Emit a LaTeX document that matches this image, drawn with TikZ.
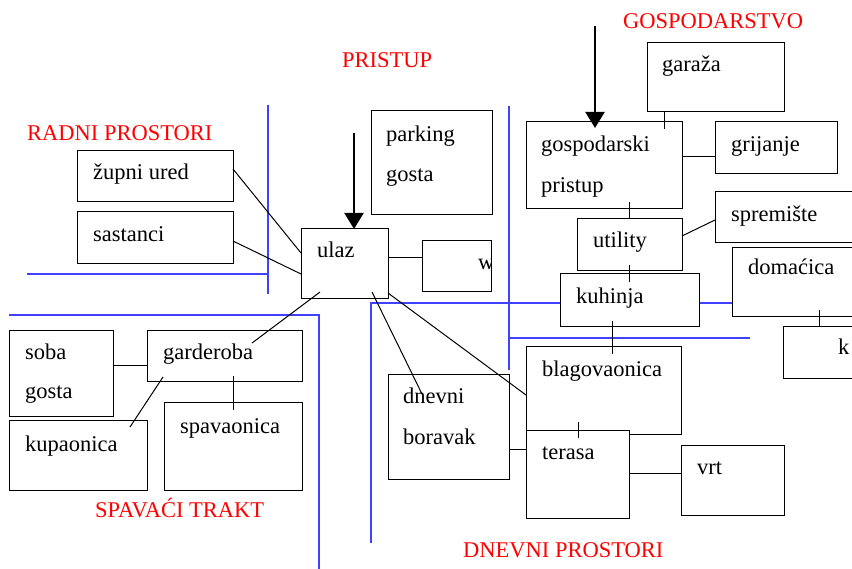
\documentclass[tikz,border=0pt]{standalone}
\usepackage{fontspec}
\setmainfont{Liberation Serif}
\usetikzlibrary{arrows.meta,calc}
\definecolor{divblue}{RGB}{64,64,255}
\definecolor{lblred}{RGB}{255,0,0}
\tikzset{
  box/.style={draw=black, fill=white, line width=1pt, inner sep=0pt, outer sep=0pt, anchor=north west},
  txt/.style={font=\fontsize{22.5}{27}\selectfont, inner sep=0pt, anchor=base west, text=black},
  zone/.style={font=\fontsize{22.5}{27}\selectfont, inner sep=0pt, anchor=base west, text=lblred},
  divider/.style={draw=divblue, line width=1.5pt},
  conn/.style={draw=black, line width=1pt},
  bigarrow/.style={draw=black, line width=2.2pt, -{Triangle[width=19pt,length=16pt]}}
}
\newcommand\roombox[5]{\node[box, minimum width=#4pt, minimum height=#5pt] (#1) at (#2,#3) {};}
\begin{document}
\begin{tikzpicture}[x=1pt,y=-1pt]
\useasboundingbox (0,0) rectangle (852,569);
\clip (0,0) rectangle (852,569);
% dividers
\draw[divider] (268,105) -- (268,294);
\draw[divider] (27,274) -- (268,274);
\draw[divider] (9,315) -- (319,315) -- (319,569);
\draw[divider] (371,543) -- (371,303) -- (733,303);
\draw[divider] (509,106) -- (509,370);
\draw[divider] (509,338) -- (750,338);
% boxes
\roombox{zupni}{77}{151}{156}{51}
\roombox{sast}{77}{212}{156}{52}
\roombox{ulaz}{301}{229}{87}{70}
\roombox{park}{371}{111}{121}{104}
\roombox{wbox}{422}{241}{69}{51}
\roombox{garaza}{647}{43}{137}{69}
\roombox{gosp}{526}{122}{156}{87}
\roombox{grij}{715}{122}{122}{52}
\roombox{sprem}{715}{192}{150}{51}
\roombox{utility}{577}{219}{105}{52}
\roombox{kuhinja}{560}{274}{139}{53}
\roombox{domacica}{732}{248}{130}{69}
\roombox{kbox}{783}{327}{80}{52}
\roombox{blag}{526}{347}{155}{87}
\roombox{terasa}{526}{431}{103}{87}
\roombox{dnevni}{388}{375}{121}{104}
\roombox{vrt}{681}{445}{103}{70}
\roombox{soba}{9}{331}{104}{86}
\roombox{garder}{147}{331}{155}{51}
\roombox{kupa}{9}{421}{138}{69}
\roombox{spav}{164}{403}{138}{87}
% texts
\node[txt] (t-zupni) at (93,180) {župni ured};
\node[txt] (t-sast) at (93,242) {sastanci};
\node[txt] (t-ulaz) at (317,258) {ulaz};
\node[txt] (t-park1) at (386,142) {parking};
\node[txt] (t-park2) at (386,182) {gosta};
\begin{scope}
\clip (422,241) rectangle (491,292);
\node[txt] (t-w) at (478,270) {w};
\end{scope}
\node[txt] (t-garaza) at (662,72) {garaža};
\node[txt] (t-gosp1) at (541,152) {gospodarski};
\node[txt] (t-gosp2) at (541,193) {pristup};
\node[txt] (t-grij) at (731,152) {grijanje};
\node[txt] (t-sprem) at (731,222) {spremište};
\node[txt] (t-utility) at (593,248) {utility};
\node[txt] (t-kuhinja) at (576,304) {kuhinja};
\node[txt] (t-domacica) at (748,275) {domaćica};
\node[txt] (t-k) at (838,355) {k};
\node[txt] (t-blag) at (542,377) {blagovaonica};
\node[txt] (t-terasa) at (542,460) {terasa};
\node[txt] (t-dnevni1) at (403,404) {dnevni};
\node[txt] (t-dnevni2) at (403,444) {boravak};
\node[txt] (t-vrt) at (697,474) {vrt};
\node[txt] (t-soba1) at (25,360) {soba};
\node[txt] (t-soba2) at (25,399) {gosta};
\node[txt] (t-garder) at (163,360) {garderoba};
\node[txt] (t-kupa) at (25,451) {kupaonica};
\node[txt] (t-spav) at (180,433) {spavaonica};
% zone labels
\node[zone] (z-gosp) at (623,29) {GOSPODARSTVO};
\node[zone] (z-pristup) at (342,68) {PRISTUP};
\node[zone] (z-radni) at (27,141) {RADNI PROSTORI};
\node[zone] (z-spav) at (95,517) {SPAVAĆI TRAKT};
\node[zone] (z-dnevni) at (463,557) {DNEVNI PROSTORI};
% connectors
\draw[conn] ([yshift=7.5pt]zupni.east) -- ([yshift=11pt]ulaz.west);
\draw[conn] ([yshift=-3pt]sast.east) -- ([yshift=-10pt]ulaz.west);
\coordinate (u1) at ([yshift=6pt]ulaz.east);
\draw[conn] (u1) -- (u1 -| wbox.west);
\draw[conn] ([xshift=-16pt,yshift=7pt]ulaz.south east) -- ([xshift=34pt,yshift=-19pt]dnevni.north west);
\draw[conn] ([yshift=6pt]ulaz.south east) -- ([yshift=-4.5pt]blag.west);
\draw[conn] ([xshift=19pt,yshift=7pt]ulaz.south west) -- ([xshift=105pt,yshift=-12pt]garder.north west);
\coordinate (s1) at ([yshift=8pt]soba.east);
\draw[conn] (s1) -- (s1 -| garder.west);
\draw[conn] ([xshift=16pt,yshift=5pt]garder.south west) -- ([xshift=121pt,yshift=-6pt]kupa.north west);
\draw[conn] ([xshift=86pt,yshift=6pt]garder.south west) -- ([xshift=69pt,yshift=-7pt]spav.north west);
\coordinate (d1) at ([yshift=-22pt]dnevni.east);
\draw[conn] (d1) -- (d1 -| terasa.west);
\coordinate (te1) at ([yshift=1.5pt]terasa.east);
\draw[conn] (te1) -- (te1 -| vrt.west);
\draw[conn] ([xshift=52pt,yshift=12pt]blag.south west) -- ([xshift=52pt,yshift=-7pt]terasa.north west);
\draw[conn] ([xshift=52pt,yshift=6pt]kuhinja.south west) -- ([xshift=86pt,yshift=-7pt]blag.north west);
\draw[conn] ([xshift=52pt,yshift=6pt]utility.south west) -- ([xshift=69pt,yshift=-8pt]kuhinja.north west);
\draw[conn] ([xshift=103pt,yshift=7pt]gosp.south west) -- ([xshift=52pt]utility.north west);
\draw[conn] ([xshift=17pt]garaza.south west) -- ([xshift=138pt,yshift=-7pt]gosp.north west);
\coordinate (g1) at ([yshift=8.5pt]gosp.east);
\draw[conn] (g1) -- (g1 -| grij.west);
\draw[conn] ([yshift=9pt]utility.east) -- ([yshift=-2.5pt]sprem.west);
\draw[conn] ([xshift=87pt,yshift=7pt]domacica.south west) -- ([xshift=36pt]kbox.north west);
% entrance arrows
\coordinate (a1) at (354,133);
\draw[bigarrow] (a1) -- (a1 |- ulaz.north);
\coordinate (a2) at (595,26);
\draw[bigarrow, shorten >=-6pt] (a2) -- (a2 |- gosp.north);
\end{tikzpicture}
\end{document}
